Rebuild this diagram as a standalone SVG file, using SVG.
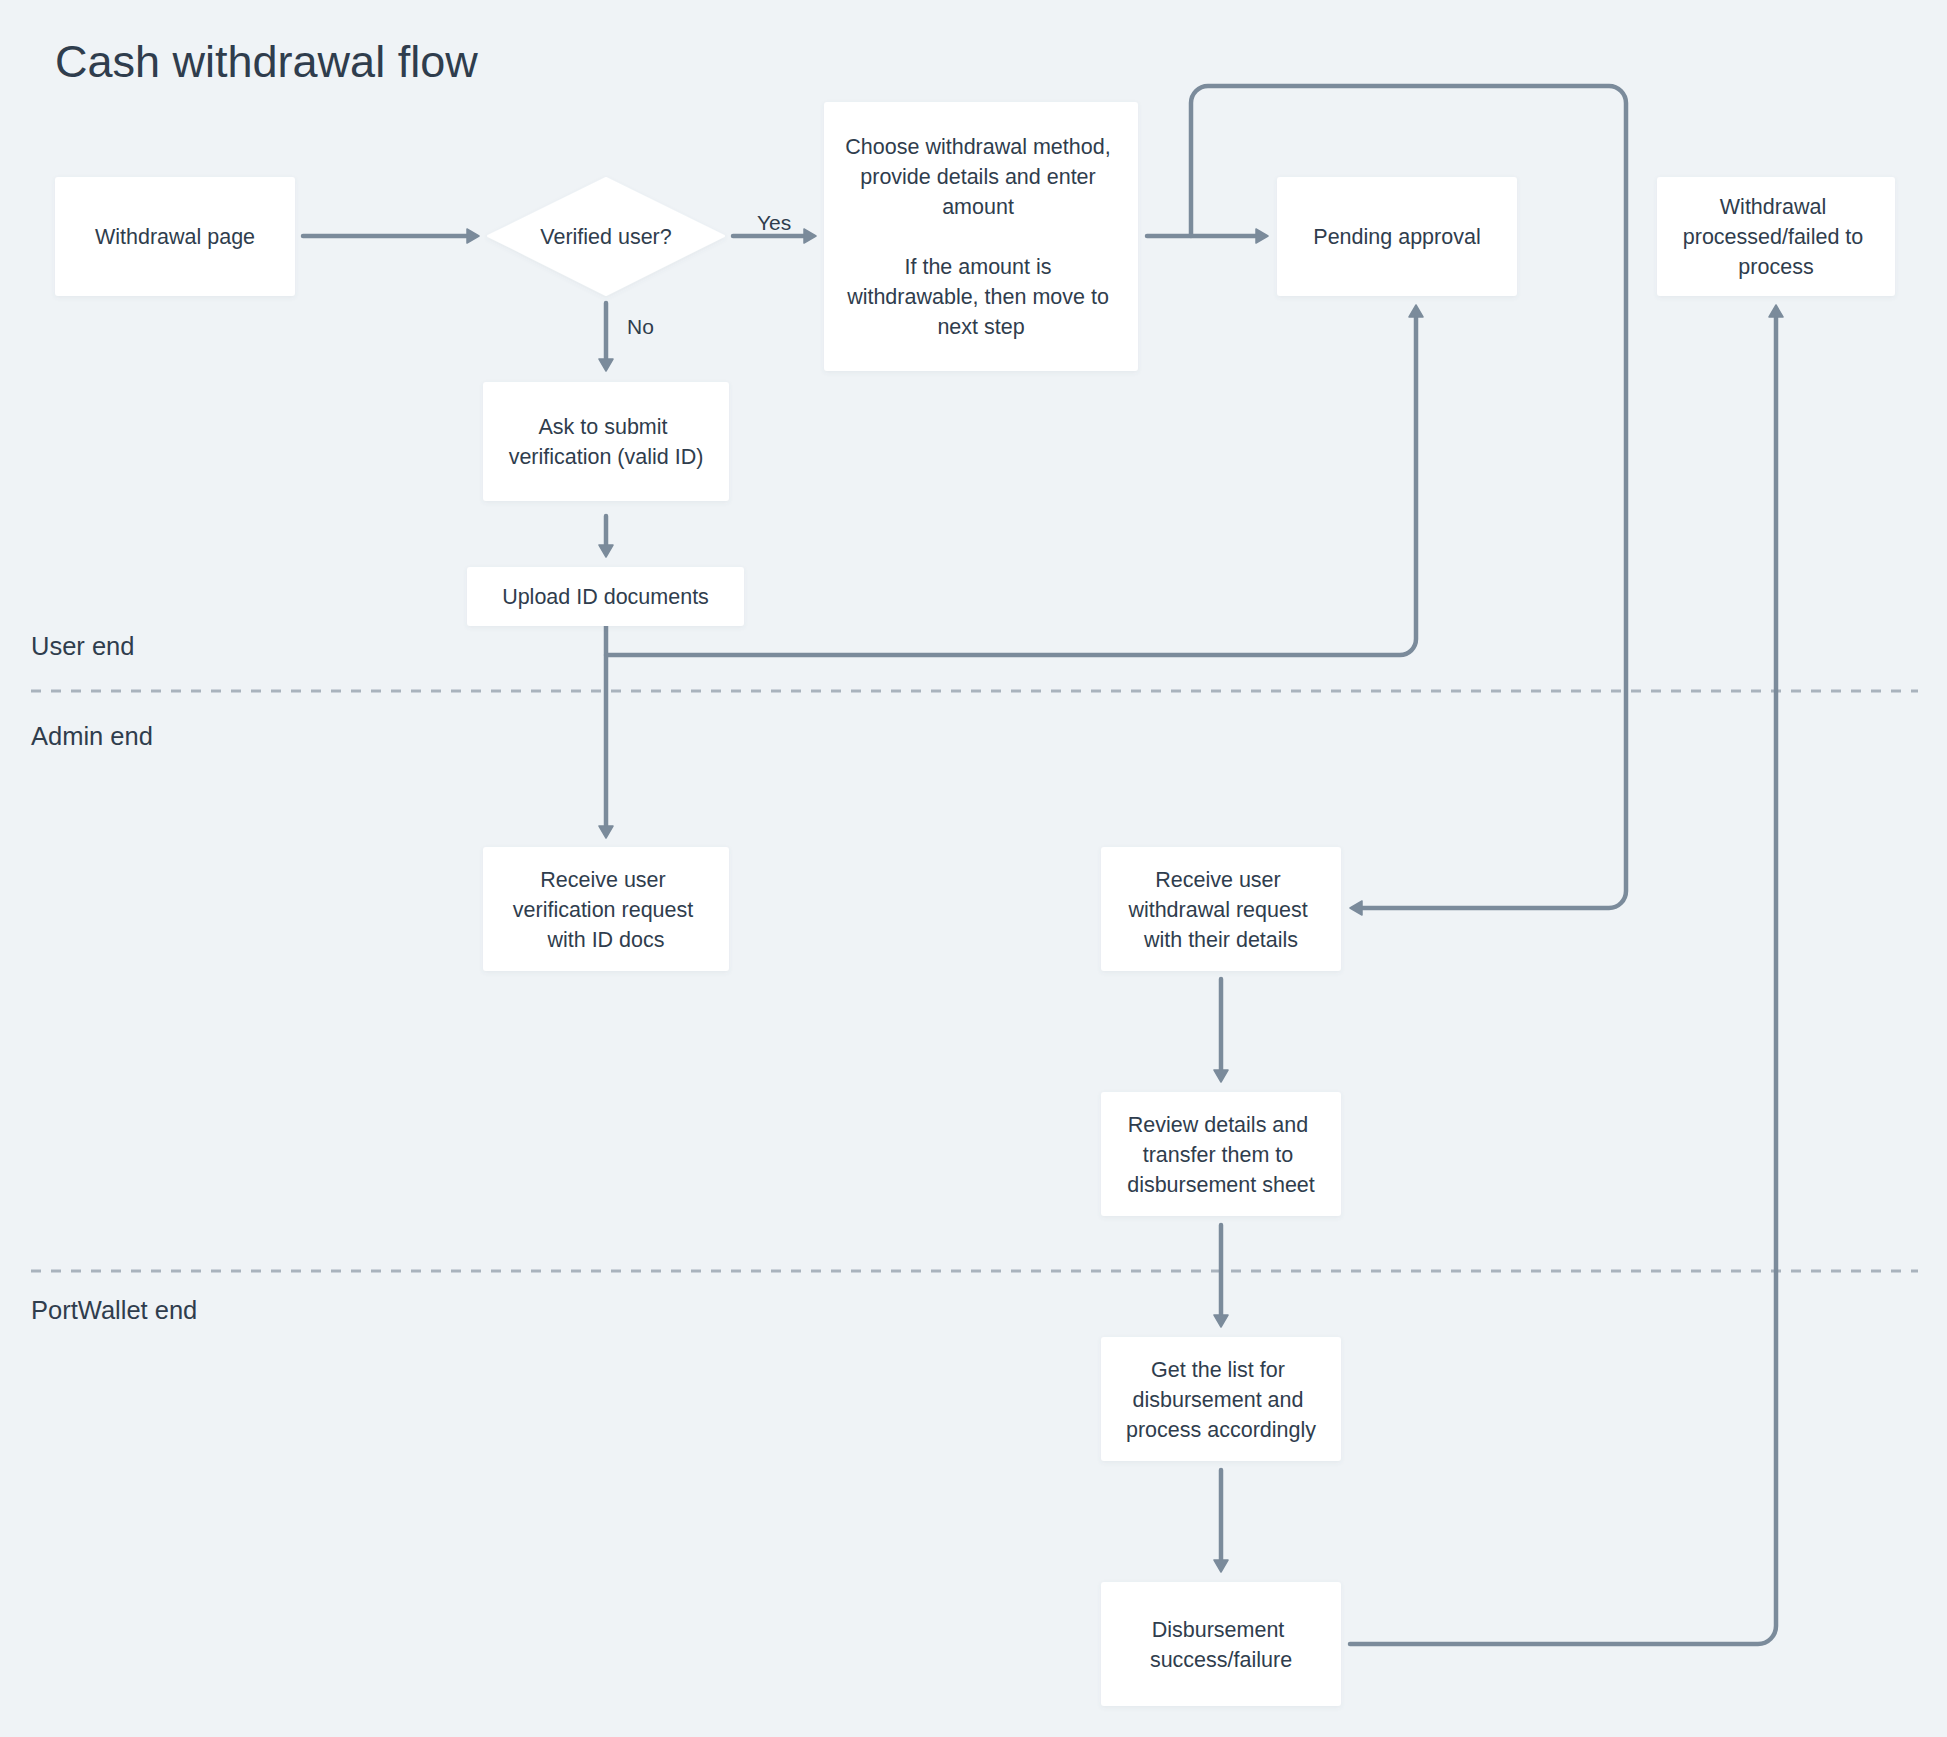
<svg xmlns="http://www.w3.org/2000/svg" width="1947" height="1737" viewBox="0 0 1947 1737">
  <defs>
    <style>
      .bg { fill: #eff3f6; }
      .box { fill: #ffffff; filter: url(#shadow); }
      .label { font-family: "Liberation Sans", Arial, sans-serif; font-size: 21.5px; fill: #2f3d4d; text-anchor: middle; }
      .edge-label { font-family: "Liberation Sans", Arial, sans-serif; font-size: 21px; fill: #2f3d4d; }
      .lane { font-family: "Liberation Sans", Arial, sans-serif; font-size: 25.5px; fill: #2f3d4d; }
      .title { font-family: "Liberation Sans", Arial, sans-serif; font-size: 45px; fill: #2f3d4d; }
      .link { fill: none; stroke: #7b8b9b; stroke-width: 4.5; stroke-linecap: round; stroke-linejoin: round; }
      .arrow { marker-end: url(#ah); }
      .divider { stroke: #a9b3bd; stroke-width: 3; stroke-dasharray: 10 10; fill: none; }
    </style>
    <filter id="shadow" x="-10%" y="-10%" width="120%" height="130%">
      <feDropShadow dx="0" dy="1.5" stdDeviation="2" flood-color="#5a6b7c" flood-opacity="0.08"/>
    </filter>
    <marker id="ah" markerUnits="userSpaceOnUse" markerWidth="16" markerHeight="20" viewBox="0 0 16 20" refX="7" refY="10" orient="auto">
      <path d="M1,3 L13,10 L1,17 Z" fill="#7b8b9b" stroke="#7b8b9b" stroke-width="1.5" stroke-linejoin="round"/>
    </marker>
  </defs>

  <rect class="bg" x="0" y="0" width="1947" height="1737"/>

  <!-- heading and swimlane labels -->
  <text class="title" x="55" y="77">Cash withdrawal flow</text>
  <text class="lane" x="31" y="655">User end</text>
  <text class="lane" x="31" y="745">Admin end</text>
  <text class="lane" x="31" y="1319">PortWallet end</text>

  <!-- lane separators -->
  <g id="dividers">
    <line class="divider" x1="31" y1="691" x2="1918" y2="691"/>
    <line class="divider" x1="31" y1="1271" x2="1918" y2="1271"/>
  </g>

  <!-- connectors -->
  <g id="connectors">
    <path class="link arrow" d="M303,236 H473"/>
    <path class="link arrow" d="M733,236 H810"/>
    <path class="link arrow" d="M606,303 V365"/>
    <path class="link arrow" d="M1147,236 H1262"/>
    <path class="link arrow" d="M1191,236 V103 A17,17 0 0 1 1208,86 H1609 A17,17 0 0 1 1626,103 V891 A17,17 0 0 1 1609,908 H1356"/>
    <path class="link arrow" d="M606,516 V551"/>
    <path class="link arrow" d="M606,626 V832"/>
    <path class="link arrow" d="M606,655 H1400 A16,16 0 0 0 1416,639 V311"/>
    <path class="link arrow" d="M1221,979 V1076"/>
    <path class="link arrow" d="M1221,1225 V1321"/>
    <path class="link arrow" d="M1221,1470 V1566"/>
    <path class="link arrow" d="M1350,1644 H1758 A18,18 0 0 0 1776,1626 V311"/>
    <text class="edge-label" x="757" y="230">Yes</text>
    <text class="edge-label" x="627" y="334">No</text>
  </g>

  <!-- nodes -->
  <g id="withdrawal-page">
    <rect class="box" x="55" y="177" width="240" height="119" rx="3"/>
    <text class="label" x="175" y="244">Withdrawal page</text>
  </g>

  <g id="verified-user">
    <polygon class="box" points="606,178 724,236 606,295 488,236" stroke="#ffffff" stroke-width="2" stroke-linejoin="round"/>
    <text class="label" x="606" y="244">Verified user?</text>
  </g>

  <g id="choose-method">
    <rect class="box" x="824" y="102" width="314" height="269" rx="3"/>
    <text class="label">
      <tspan x="981" y="154">Choose withdrawal method,</tspan>
      <tspan x="981" y="184">provide details and enter</tspan>
      <tspan x="981" y="214">amount</tspan>
      <tspan x="981" y="274">If the amount is</tspan>
      <tspan x="981" y="304">withdrawable, then move to</tspan>
      <tspan x="981" y="334">next step</tspan>
    </text>
  </g>

  <g id="pending-approval">
    <rect class="box" x="1277" y="177" width="240" height="119" rx="3"/>
    <text class="label" x="1397" y="244">Pending approval</text>
  </g>

  <g id="withdrawal-processed">
    <rect class="box" x="1657" y="177" width="238" height="119" rx="3"/>
    <text class="label">
      <tspan x="1776" y="214">Withdrawal</tspan>
      <tspan x="1776" y="244">processed/failed to</tspan>
      <tspan x="1776" y="274">process</tspan>
    </text>
  </g>

  <g id="ask-verification">
    <rect class="box" x="483" y="382" width="246" height="119" rx="3"/>
    <text class="label">
      <tspan x="606" y="434">Ask to submit</tspan>
      <tspan x="606" y="464">verification (valid ID)</tspan>
    </text>
  </g>

  <g id="upload-id">
    <rect class="box" x="467" y="567" width="277" height="59" rx="3"/>
    <text class="label" x="605.5" y="604">Upload ID documents</text>
  </g>

  <g id="receive-verification">
    <rect class="box" x="483" y="847" width="246" height="124" rx="3"/>
    <text class="label">
      <tspan x="606" y="887">Receive user</tspan>
      <tspan x="606" y="917">verification request</tspan>
      <tspan x="606" y="947">with ID docs</tspan>
    </text>
  </g>

  <g id="receive-withdrawal">
    <rect class="box" x="1101" y="847" width="240" height="124" rx="3"/>
    <text class="label">
      <tspan x="1221" y="887">Receive user</tspan>
      <tspan x="1221" y="917">withdrawal request</tspan>
      <tspan x="1221" y="947">with their details</tspan>
    </text>
  </g>

  <g id="review-details">
    <rect class="box" x="1101" y="1092" width="240" height="124" rx="3"/>
    <text class="label">
      <tspan x="1221" y="1132">Review details and</tspan>
      <tspan x="1221" y="1162">transfer them to</tspan>
      <tspan x="1221" y="1192">disbursement sheet</tspan>
    </text>
  </g>

  <g id="get-list">
    <rect class="box" x="1101" y="1337" width="240" height="124" rx="3"/>
    <text class="label">
      <tspan x="1221" y="1377">Get the list for</tspan>
      <tspan x="1221" y="1407">disbursement and</tspan>
      <tspan x="1221" y="1437">process accordingly</tspan>
    </text>
  </g>

  <g id="disbursement">
    <rect class="box" x="1101" y="1582" width="240" height="124" rx="3"/>
    <text class="label">
      <tspan x="1221" y="1637">Disbursement</tspan>
      <tspan x="1221" y="1667">success/failure</tspan>
    </text>
  </g>
</svg>
